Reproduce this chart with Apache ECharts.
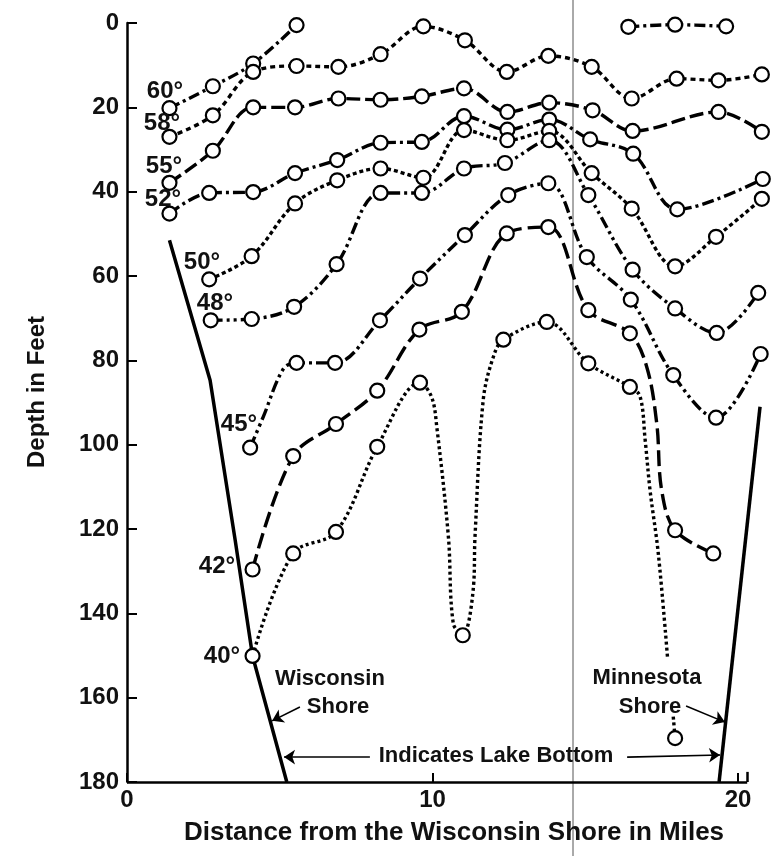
<!DOCTYPE html>
<html>
<head>
<meta charset="utf-8">
<script src="https://cdn.jsdelivr.net/npm/echarts@6/dist/echarts.min.js"></script>
<style>
  html, body { margin: 0; background: #fff; }
  #main { width: 781px; height: 856px; }
</style>
</head>
<body>
<div id="main"></div>
<script>
// isotherms, [miles from Wisconsin shore, depth in feet] - one circle per station
var iso60 = [[1.39, 20.2], [2.81, 15.0], [4.13, 9.6], [5.55, 0.5]];
var iso60East = [[16.41, 0.9], [17.94, 0.4], [19.61, 0.8]];
var iso58 = [[1.39, 27.0], [2.81, 21.9], [4.13, 11.6], [5.55, 10.2], [6.92, 10.4], [8.30, 7.4], [9.70, 0.8],
  [11.06, 4.1], [12.43, 11.6], [13.79, 7.8], [15.21, 10.4], [16.52, 17.9], [17.99, 13.2], [19.36, 13.6], [20.78, 12.2]];
var iso55 = [[1.39, 37.9], [2.81, 30.3], [4.13, 20.0], [5.50, 20.0], [6.92, 17.9], [8.30, 18.2], [9.65, 17.4],
  [11.03, 15.5], [12.45, 21.1], [13.82, 18.9], [15.24, 20.7], [16.55, 25.6], [19.36, 21.1], [20.78, 25.8]];
var iso52 = [[1.39, 45.2], [2.69, 40.3], [4.13, 40.1], [5.50, 35.6], [6.88, 32.5], [8.30, 28.4], [9.65, 28.2],
  [11.03, 22.1], [12.45, 25.3], [13.82, 22.9], [15.16, 27.6], [16.57, 31.0], [18.01, 44.2], [20.81, 37.0]];
var iso50 = [[2.69, 60.8], [4.08, 55.3], [5.50, 42.8], [6.88, 37.3], [8.30, 34.5], [9.70, 36.7], [11.03, 25.4],
  [12.45, 27.8], [13.82, 25.6], [15.21, 35.6], [16.52, 44.0], [17.94, 57.7], [19.28, 50.7], [20.78, 41.7]];
var iso48 = [[2.74, 70.5], [4.08, 70.2], [5.47, 67.3], [6.86, 57.2], [8.30, 40.3], [9.65, 40.3], [11.03, 34.5],
  [12.37, 33.2], [13.82, 27.8], [15.10, 40.8], [16.55, 58.5], [17.94, 67.7], [19.30, 73.5], [20.66, 64.0]];
var iso45 = [[4.03, 100.7], [5.55, 80.6], [6.81, 80.6], [8.28, 70.5], [9.59, 60.6], [11.06, 50.3], [12.48, 40.8],
  [13.79, 38.0], [15.05, 55.5], [16.49, 65.6], [17.88, 83.5], [19.28, 93.6], [20.74, 78.5]];
var iso42 = [[4.11, 129.6], [5.44, 102.7], [6.84, 95.1], [8.19, 87.2], [9.57, 72.7], [10.96, 68.5], [12.43, 49.9],
  [13.79, 48.4], [15.10, 68.1], [16.46, 73.6], [17.94, 120.3], [19.19, 125.8]];
var iso40 = [[4.11, 150.1], [5.44, 125.8], [6.84, 120.7], [8.19, 100.5], [9.59, 85.3], [10.99, 145.2],
  [12.32, 75.1], [13.74, 70.9], [15.10, 80.7], [16.46, 86.3]];
var iso40Deep = [[17.94, 169.6]];

// points read off the drawn curves where they bend sharply (no circle there)
var bends45 = [[4.46, 93.4], [5.12, 82.0]];
var bends42 = [[17.01, 81.5], [17.34, 95.0], [17.50, 110.8]];
var bends40 = [[9.97, 88.7], [10.14, 95.8], [10.52, 121.9], [10.68, 142.4], [11.34, 133.7], [11.39, 121.9],
  [11.66, 89.4], [11.99, 79.2], [16.79, 88.5], [16.96, 98.9], [17.12, 110.8], [17.39, 125.8], [17.69, 150.3]];
var bends40Deep = [[17.88, 164.5]];

// lake bottom
var wisconsinShore = [[1.39, 51.5], [2.72, 84.7], [3.54, 122.6], [4.11, 150.1], [5.23, 180]];
var minnesotaShore = [[20.72, 91.0], [19.38, 180]];

// axis
var mileTicks = [0, 10, 20];
var mileAxisEnd = 20.3;   // drawn x axis stops here, the stations go a little past it
var mileRange = 20.85;

var chart = echarts.init(document.getElementById('main'));
var FONT = '"Liberation Sans", Arial, sans-serif';

function isoData(stations, bends) {
  var pts = stations.map(function (p) { return { value: p }; });
  (bends || []).forEach(function (p) { pts.push({ value: p, symbol: 'none' }); });
  pts.sort(function (a, b) { return a.value[0] - b.value[0]; });
  return pts;
}

function isoSeries(data, dash) {
  return {
    type: 'line',
    data: data,
    smooth: 0.35,
    clip: false,
    silent: true,
    symbol: 'circle',
    symbolSize: 14,
    showAllSymbol: true,
    lineStyle: { color: '#000', width: 3.4, type: dash },
    itemStyle: { color: '#fff', borderColor: '#000', borderWidth: 2.2 },
    emphasis: { disabled: true },
    z: 3
  };
}

function txt(s, x, y, size, rot) {
  return {
    type: 'text', x: x, y: y, rotation: rot || 0, silent: true, z: 10,
    style: { text: s, fill: '#111', font: 'bold ' + size + 'px ' + FONT, align: 'center', verticalAlign: 'middle' }
  };
}

var arrowLines = [
  [{ coord: [7.95, 174.1] }, { coord: [5.14, 174.1] }],
  [{ coord: [16.37, 174.1] }, { coord: [19.41, 173.6] }],
  [{ coord: [5.66, 162.2], lineStyle: { curveness: -0.25 } }, { coord: [4.75, 165.5] }],
  [{ coord: [18.30, 162.0], lineStyle: { curveness: 0.25 } }, { coord: [19.57, 165.8] }]
];

var option = {
  animation: false,
  backgroundColor: '#fff',
  grid: { left: 127, right: 17, top: 23, bottom: 74 },
  xAxis: {
    type: 'value', min: 0, max: mileRange, interval: 10,
    axisLine: { show: false, onZero: false },
    axisTick: { inside: true, length: 9, customValues: mileTicks, lineStyle: { color: '#000', width: 2 } },
    axisLabel: {
      color: '#111', fontSize: 24, fontWeight: 'bold', fontFamily: FONT, margin: 6,
      customValues: mileTicks,
      formatter: function (v) { return v % 10 === 0 ? v : ''; }
    },
    splitLine: { show: false }
  },
  yAxis: {
    type: 'value', inverse: true, min: 0, max: 180, interval: 20,
    axisLine: { lineStyle: { color: '#000', width: 2.5 } },
    axisTick: { inside: true, length: 10, lineStyle: { color: '#000', width: 2 } },
    axisLabel: { color: '#111', fontSize: 24, fontWeight: 'bold', fontFamily: FONT, margin: 8 },
    splitLine: { show: false }
  },
  series: [
    isoSeries(isoData(iso60), [11, 4, 3, 4]),
    isoSeries(isoData(iso60East), [11, 4, 3, 4]),
    isoSeries(isoData(iso58), [5, 4]),
    isoSeries(isoData(iso55), [14, 5]),
    isoSeries(isoData(iso52), [12, 4, 3, 4]),
    isoSeries(isoData(iso50), [4, 3]),
    isoSeries(isoData(iso48), [12, 4, 3, 4, 3, 4]),
    isoSeries(isoData(iso45, bends45), [12, 4, 3, 4, 3, 4]),
    isoSeries(isoData(iso42, bends42), [16, 6]),
    isoSeries(isoData(iso40, bends40), [3, 3]),
    isoSeries(isoData(iso40Deep, bends40Deep), [3, 3]),
    {
      type: 'line', data: wisconsinShore, symbol: 'none', clip: false, silent: true,
      lineStyle: { color: '#000', width: 3.5 }, z: 2,
      markLine: {
        silent: true, symbol: ['none', 'arrow'], symbolSize: 11, animation: false,
        label: { show: false },
        lineStyle: { color: '#000', width: 1.6, type: 'solid' },
        data: arrowLines
      }
    },
    {
      type: 'line', data: minnesotaShore, symbol: 'none', clip: false, silent: true,
      lineStyle: { color: '#000', width: 3.5 }, z: 2,
      // x axis line, ending in a small upturned bracket
      markLine: {
        silent: true, symbol: ['none', 'none'], animation: false,
        label: { show: false },
        lineStyle: { color: '#000', width: 2.5, type: 'solid' },
        data: [
          [{ coord: [0, 180] }, { coord: [mileAxisEnd, 180] }],
          [{ coord: [mileAxisEnd, 180] }, { coord: [mileAxisEnd, 177.6] }]
        ]
      }
    }
  ],
  graphic: [
    { type: 'line', silent: true, z: 1, shape: { x1: 573, y1: 0, x2: 573, y2: 856 }, style: { stroke: '#555', lineWidth: 1 } },
    txt('60°', 165, 91, 24),
    txt('58°', 162, 123, 24),
    txt('55°', 164, 166, 24),
    txt('52°', 163, 199, 24),
    txt('50°', 202, 262, 24),
    txt('48°', 215, 303, 24),
    txt('45°', 239, 424, 24),
    txt('42°', 217, 566, 24),
    txt('40°', 222, 656, 24),
    txt('Wisconsin', 330, 679, 22),
    txt('Shore', 338, 707, 22),
    txt('Minnesota', 647, 678, 22),
    txt('Shore', 650, 707, 22),
    txt('Indicates Lake Bottom', 496, 756, 22),
    txt('Depth in Feet', 37, 392, 24, Math.PI / 2),
    txt('Distance from the Wisconsin Shore in Miles', 454, 833, 26)
  ]
};

chart.setOption(option);
</script>
</body>
</html>
